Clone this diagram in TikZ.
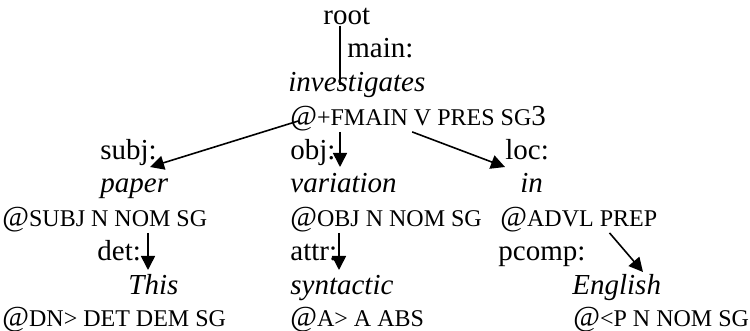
\documentclass[tikz,border=0pt]{standalone}
\usepackage{fontspec}
\setmainfont{Liberation Serif}
\usetikzlibrary{arrows.meta}

% function tags: @ at full size, the rest smaller
\newcommand{\gtag}[1]{@{\fontsize{12}{14}\selectfont #1}}

\begin{document}
\begin{tikzpicture}[x=0.5pt, y=-0.5pt,
  lbl/.style={anchor=base west, inner sep=0pt, font=\fontsize{14.5}{17}\selectfont},
  wd/.style={lbl, font=\fontsize{14.5}{17}\selectfont\itshape},
  tg/.style={lbl},
  arrow/.style={-{Triangle[length=7pt, width=7pt]}, line width=0.8pt},
  link/.style={line width=0.8pt},
]
\useasboundingbox (0,0) rectangle (750,331);

% Root
\node[lbl] (root) at (323,25) {root};
\node[lbl] (main) at (347,58) {main:};
\node[wd]  (invest) at (288,92) {investigates};
\node[tg]  (fmain) at (290,126) {\gtag{+FMAIN V PRES SG}3};

% Dependents of the main verb
\node[lbl] (subj) at (100,160) {subj:};
\node[lbl] (obj)  at (290,160) {obj:};
\node[lbl] (loc)  at (505,160) {loc:};

\node[wd] (paper)     at (100,193) {paper};
\node[wd] (variation) at (290,193) {variation};
\node[wd] (in)        at (520,193) {in};

\node[tg] (subjtag) at (2,227)   {\gtag{SUBJ N NOM SG}};
\node[tg] (objtag)  at (290,227) {\gtag{OBJ N NOM SG}};
\node[tg] (advltag) at (500,227) {\gtag{ADVL PREP}};

% Second level
\node[lbl] (det)   at (97,261)  {det:};
\node[lbl] (attr)  at (290,261) {attr:};
\node[lbl] (pcomp) at (498,261) {pcomp:};

\node[wd] (this)      at (128,295) {This};
\node[wd] (syntactic) at (290,295) {syntactic};
\node[wd] (english)   at (572,295) {English};

\node[tg] (dntag) at (2,327)   {\gtag{DN> DET DEM SG}};
\node[tg] (atag)  at (290,327) {\gtag{A> A ABS}};
\node[tg] (ptag)  at (573,327) {\gtag{<P N NOM SG}};

% Arrow ends
\coordinate (rootfoot) at (340,85);
\coordinate (subjtip)  at (150,167);
\coordinate (objtip)   at (340,167);
\coordinate (loctip)   at (505,167);
\coordinate (dettip)   at (148,270);
\coordinate (attrtip)  at (339,270);
\coordinate (pcomptip) at (643,272);

% Arrows
\draw[link]  (root.south -| rootfoot) -- (rootfoot);
\draw[arrow] ([xshift=4pt,yshift=-1pt]fmain.west) -- (subjtip);
\draw[arrow] (fmain.south -| objtip) -- (objtip);
\draw[arrow] ([xshift=-3pt]fmain.south) -- (loctip);
\draw[arrow] (subjtag.south -| dettip) -- (dettip);
\draw[arrow] (objtag.south -| attrtip) -- (attrtip);
\draw[arrow] ([xshift=-24pt]advltag.south east) -- (pcomptip);

\end{tikzpicture}
\end{document}
